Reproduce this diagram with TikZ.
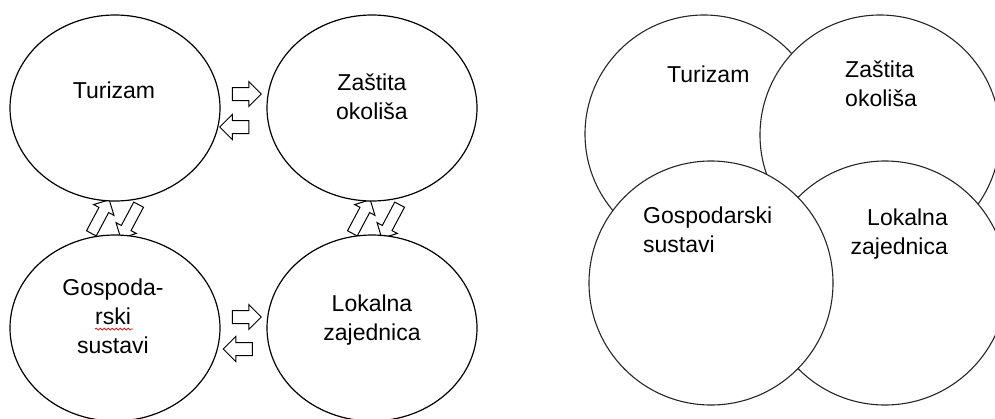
\documentclass[tikz,border=0pt]{standalone}
\usepackage{fontspec}
\setmainfont{Liberation Sans}
\usetikzlibrary{shapes.geometric, shapes.arrows, positioning, decorations.pathmorphing}
\tikzstyle{area} = [ellipse, draw=black, line width=1.2pt, fill=white, minimum width=210pt, minimum height=186pt, inner sep=0pt]
\tikzstyle{field} = [circle, draw=black!85, line width=1.1pt, fill=white, inner sep=0pt]
\tikzstyle{txt} = [inner sep=0pt, font=\fontsize{23}{29}\selectfont]
\tikzstyle{flow} = [single arrow, draw=black, line width=1pt, fill=white, minimum height=29pt, inner sep=6pt, single arrow head extend=6pt]
\tikzstyle{tilt} = [single arrow, draw=black, line width=1pt, fill=white, minimum height=38pt, inner sep=5pt, single arrow head extend=6pt]

\begin{document}
\begin{tikzpicture}[x=1pt, y=-1pt]
\clip (0,0) rectangle (995,418);

% left: four areas with exchange arrows
\node (tr1) [flow] at (243.5,94) {};
\node (tl1) [flow, rotate=180] at (237.5,127) {};
\node (tr2) [flow] at (243.5,317) {};
\node (tl2) [flow, rotate=180] at (241,349) {};

\node (up1) [tilt, rotate=62] at (99,219) {};
\node (dn1) [tilt, rotate=242] at (131,219) {};
\node (up2) [tilt, rotate=62] at (360,219) {};
\node (dn2) [tilt, rotate=242] at (392,219) {};

\node (turizam) [area] at (115,108) {};
\node (zastita) [area] at (372,108) {};
\node (gospodarstvo) [area] at (115,328) {};
\node (zajednica) [area] at (372,328) {};

% anchor=base sits on the last line
\node (turizamtxt) [txt, anchor=base] at (114,98) {Turizam};
\node (zastitatxt) [txt, anchor=base, align=center] at (372,119) {Zaštita\\okoliša};
\node (gospodtxt) [txt, anchor=base, align=center] at (113,353) {Gospoda-\\rski\\sustavi};
\node (zajedntxt) [txt, anchor=base, align=center] at (372,340) {Lokalna\\zajednica};
\draw [red, line width=0.7pt, decorate, decoration={snake, amplitude=1pt, segment length=4pt}] (95,329) -- (133,329);

% right: overlapping circles
\node (turizamR) [field, minimum size=238pt] at (704,134) {};
\node (zastitaR) [field, minimum size=240pt] at (880,135) {};
\node (zajednicaR) [field, minimum size=244pt] at (885,283) {};
\node (gospodR) [field, minimum size=244pt] at (711,283) {};

\node (turizamRtxt) [txt, anchor=base west] at (667,82) {Turizam};
\node (zastitaRtxt) [txt, anchor=base west, align=left] at (845,106) {Zaštita\\okoliša};
\node (gospodRtxt) [txt, anchor=base west, align=left] at (643,252) {Gospodarski\\sustavi};
\node (zajednRtxt) [txt, anchor=base east, align=right] at (948,254) {Lokalna\\zajednica};
\end{tikzpicture}
\end{document}
